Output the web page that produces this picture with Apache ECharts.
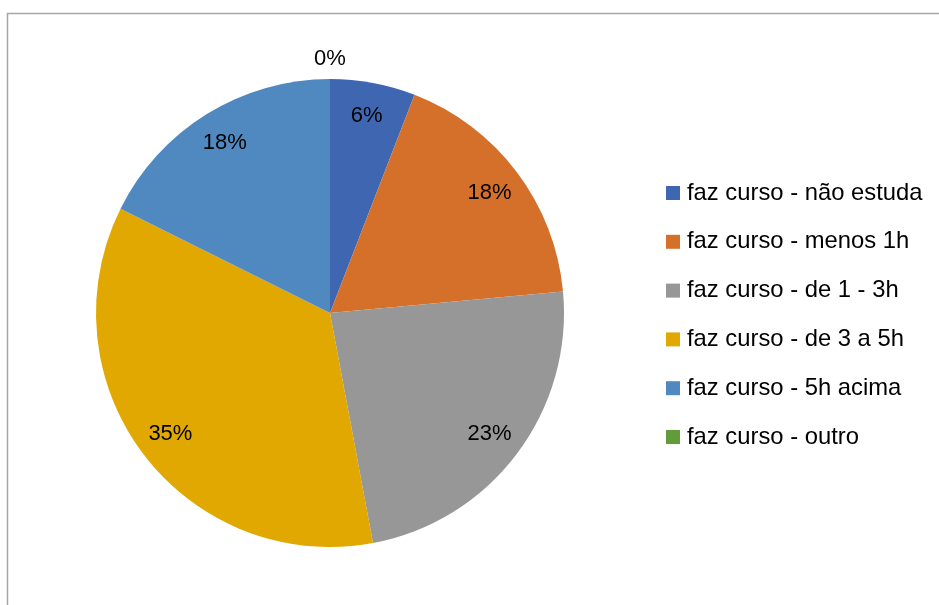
<!DOCTYPE html>
<html>
<head>
<meta charset="utf-8">
<title>faz curso</title>
<script src="https://cdn.jsdelivr.net/npm/echarts@6/dist/echarts.min.js"></script>
<style>
    *{margin:0;padding:0;}
    body{background:#fff;}
    #main{width:939px;height:605px;}
</style>
</head>
<body>
<div id="main"></div>
<script>
    // respostas (contagem), percentuais mostrados = contagem / total
    var categorias = ['faz curso - não estuda', 'faz curso - menos 1h', 'faz curso - de 1 - 3h',
                      'faz curso - de 3 a 5h', 'faz curso - 5h acima', 'faz curso - outro'];
    var valores = [1, 3, 4, 6, 3, 0];
    var cores = ['#3F67B1', '#D5702B', '#979797', '#E0A800', '#4F89C0', '#629B3A'];

    var fonte = '"Liberation Sans", Arial, sans-serif';
    var myChart = echarts.init(document.getElementById('main'));

    var dadosPie = [];
    var dadosLabel = [];
    for (var i = 0; i < categorias.length; i++) {
        dadosPie.push({name: categorias[i], value: valores[i], itemStyle: {color: cores[i]}});
        var item = {name: categorias[i], value: valores[i]};
        if (valores[i] == 0) {
            item.label = {offset: [0, -54]};
        }
        dadosLabel.push(item);
    }

    var option = {
        animation: false,
        graphic: [{
            type: 'rect',
            shape: {x: 7.5, y: 13.5, width: 1000, height: 700},
            style: {fill: 'none', stroke: '#A6A6A6', lineWidth: 1.5},
            silent: true
        }],
        legend: {
            orient: 'vertical',
            left: 666,
            top: 181,
            padding: 0,
            itemWidth: 14,
            itemHeight: 14,
            itemGap: 24.8,
            icon: 'rect',
            textStyle: {fontSize: 23.8, lineHeight: 24, color: '#000', fontFamily: fonte, padding: [0, 0, 0, 2]},
            data: categorias
        },
        series: [{
            type: 'pie',
            center: [330, 313],
            radius: [0, 234],
            startAngle: 90,
            clockwise: true,
            percentPrecision: 0,
            label: {show: false},
            labelLine: {show: false},
            itemStyle: {borderColor: '#fff', borderWidth: 0},
            emphasis: {disabled: true},
            data: dadosPie
        }, {
            // serie so para posicionar os rotulos percentuais
            type: 'pie',
            center: [330, 313],
            radius: [160, 234],
            startAngle: 90,
            clockwise: true,
            percentPrecision: 0,
            silent: true,
            legendHoverLink: false,
            itemStyle: {color: 'rgba(0,0,0,0)'},
            label: {
                show: true,
                position: 'inside',
                formatter: '{d}%',
                fontSize: 22,
                color: '#000',
                fontFamily: fonte
            },
            labelLine: {show: false},
            emphasis: {disabled: true},
            data: dadosLabel
        }]
    };
    myChart.setOption(option);
</script>
</body>
</html>
